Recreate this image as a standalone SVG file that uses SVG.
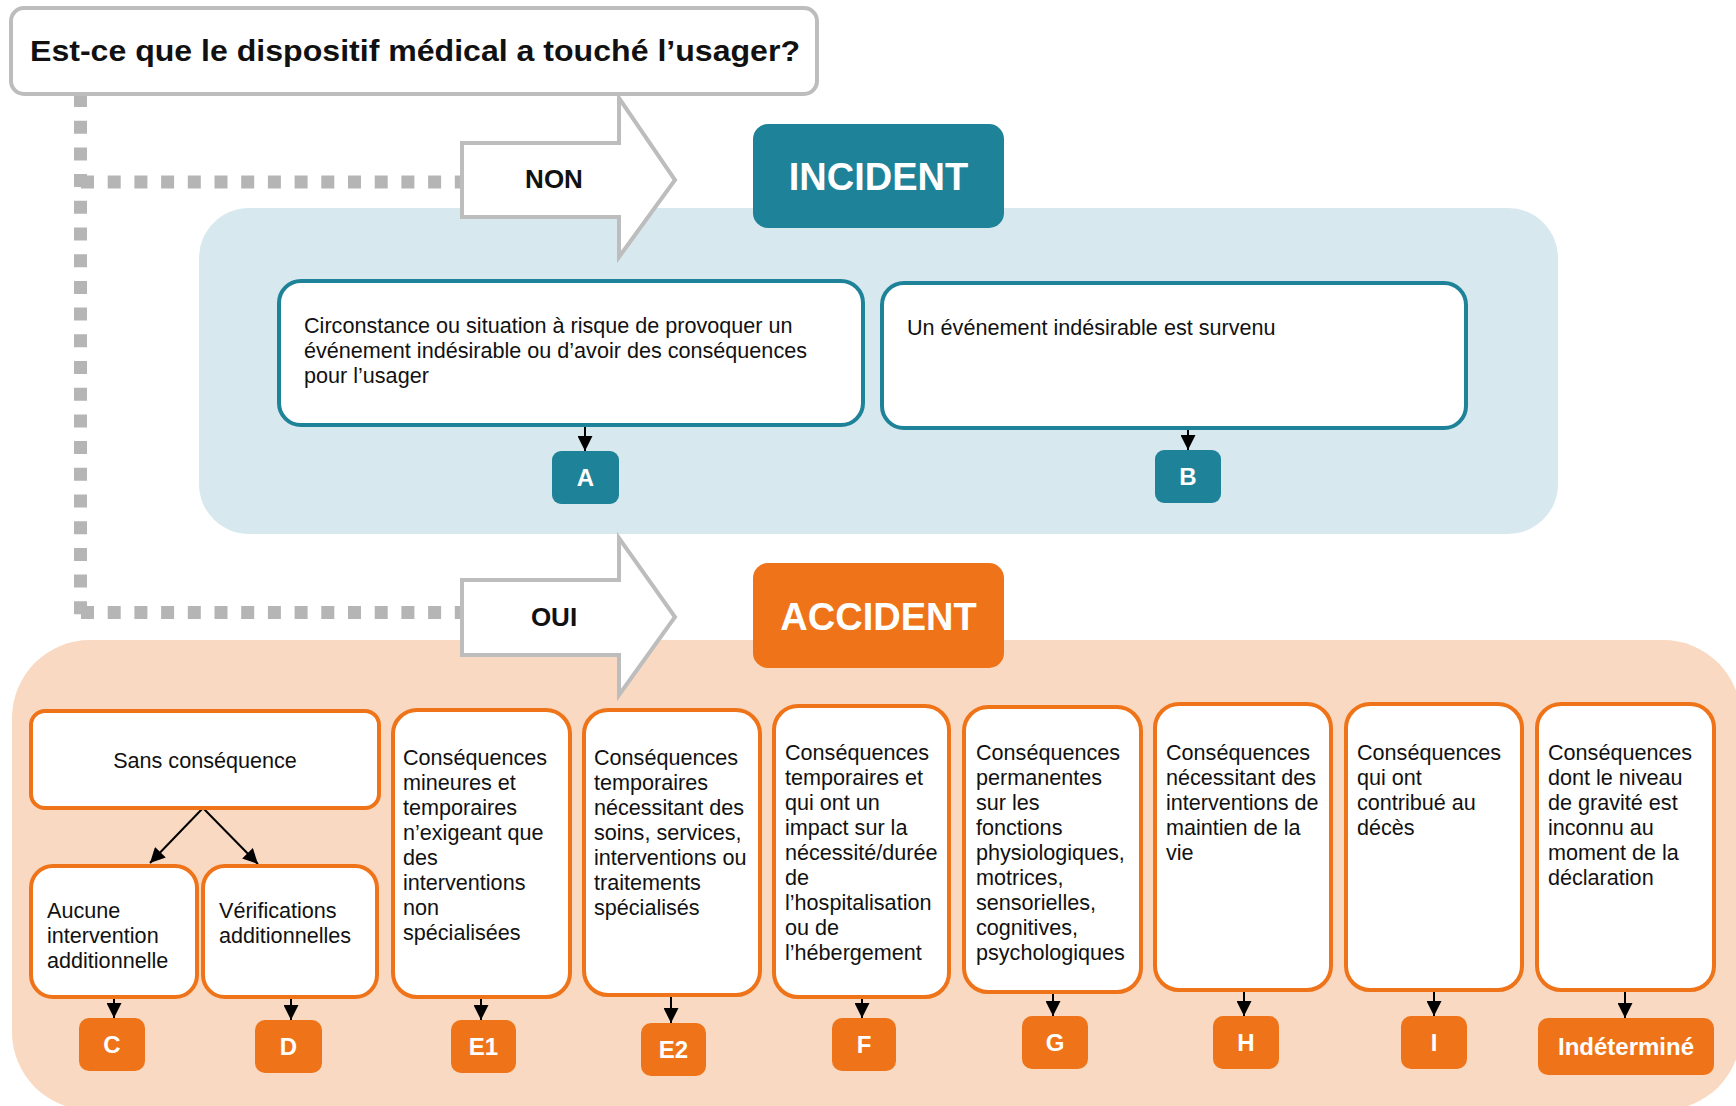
<svg xmlns="http://www.w3.org/2000/svg" width="1736" height="1106" viewBox="0 0 1736 1106">
<defs>
<style>
text{font-family:"Liberation Sans",Arial,sans-serif;fill:#111}
.b{font-weight:bold}
.t{font-size:21.6px}
.badge-t{font-size:24px;font-weight:bold;fill:#fff;text-anchor:middle}
.big{font-size:38px;font-weight:bold;fill:#fff;text-anchor:middle}
.tealbox{fill:#fff;stroke:#1e8299;stroke-width:4}
.orbox{fill:#fff;stroke:#ef7419;stroke-width:4}
.tealfill{fill:#1e8299}
.orfill{fill:#ef7419}
.dots{fill:none;stroke:#b5b5b5;stroke-width:13;stroke-dasharray:13 13.7}
.blk{fill:#fff;stroke:#bdbdbd;stroke-width:4}
.con{stroke:#000;stroke-width:2;fill:none;marker-end:url(#ah)}
</style>
<marker id="ah" viewBox="0 0 10 10" refX="10" refY="5" markerWidth="15" markerHeight="15" markerUnits="userSpaceOnUse" orient="auto">
<path d="M0,0 L10,5 L0,10 z" fill="#000"/>
</marker>
</defs>
<rect width="1736" height="1106" fill="#fff"/>

<!-- panels -->
<rect id="panel-incident" x="199" y="208" width="1359" height="326" rx="50" fill="#d7e9ee"/>
<rect id="panel-accident" x="12" y="640" width="1729" height="470" rx="78" fill="#f9d9c1"/>

<!-- dotted connectors -->
<g id="connectors">
<path class="dots" d="M80.5,94 V620"/>
<path class="dots" d="M81,182 H462"/>
<path class="dots" d="M81,612.5 H462"/>
<path class="con" d="M585,425 V451"/>
<path class="con" d="M1188,428 V450"/>
<path class="con" d="M203,808 L150,863"/>
<path class="con" d="M203,808 L258,864"/>
<path class="con" d="M114,997 V1018"/>
<path class="con" d="M291,997 V1020"/>
<path class="con" d="M481,997 V1020"/>
<path class="con" d="M671,995 V1023"/>
<path class="con" d="M862,997 V1018"/>
<path class="con" d="M1053,992 V1016"/>
<path class="con" d="M1244,990 V1016"/>
<path class="con" d="M1434,990 V1016"/>
<path class="con" d="M1625,990 V1018"/>
</g>

<g id="question">
<rect x="11" y="8" width="806" height="86" rx="13" fill="#fff" stroke="#bdbdbd" stroke-width="4"/>
<text class="b" x="30" y="61" font-size="30" textLength="770" lengthAdjust="spacingAndGlyphs">Est-ce que le dispositif médical a touché l’usager?</text>
</g>

<g id="arrow-non">
<path class="blk" d="M462,143 H619 V98 L675,180 L619,257 V217 H462 Z"/>
<text class="b" x="554" y="188" font-size="26" text-anchor="middle">NON</text>
</g>
<g id="arrow-oui">
<path class="blk" d="M462,580 H619 V538 L675,617 L619,695 V655 H462 Z"/>
<text class="b" x="554" y="626" font-size="26" text-anchor="middle">OUI</text>
</g>

<g id="incident">
<rect class="tealfill" x="753" y="124" width="251" height="104" rx="15"/>
<text class="big" x="878.5" y="190">INCIDENT</text>
</g>
<g id="accident">
<rect class="orfill" x="753" y="563" width="251" height="105" rx="15"/>
<text class="big" x="878.5" y="630">ACCIDENT</text>
</g>

<g id="incident-a">
<rect class="tealbox" x="279" y="281" width="584" height="144" rx="22"/>
<text class="t" x="304"><tspan x="304" y="333">Circonstance ou situation à risque de provoquer un</tspan><tspan x="304" y="358">événement indésirable ou d’avoir des conséquences</tspan><tspan x="304" y="383">pour l’usager</tspan></text>
</g>
<g id="incident-b">
<rect class="tealbox" x="882" y="283" width="584" height="145" rx="22"/>
<text class="t" x="907" y="335">Un événement indésirable est survenu</text>
</g>
<g id="badge-a"><rect class="tealfill" x="552" y="451" width="67" height="53" rx="9"/><text class="badge-t" x="585.5" y="486">A</text></g>
<g id="badge-b"><rect class="tealfill" x="1155" y="450" width="66" height="53" rx="9"/><text class="badge-t" x="1188" y="485">B</text></g>

<g id="sans">
<rect class="orbox" x="31" y="711" width="348" height="97" rx="14"/>
<text class="t" x="205" y="768" text-anchor="middle">Sans conséquence</text>
</g>
<g id="aucune">
<rect class="orbox" x="31" y="866" width="166" height="131" rx="22"/>
<text class="t"><tspan x="47" y="918">Aucune</tspan><tspan x="47" y="943">intervention</tspan><tspan x="47" y="968">additionnelle</tspan></text>
</g>
<g id="verif">
<rect class="orbox" x="203" y="866" width="174" height="131" rx="22"/>
<text class="t"><tspan x="219" y="918">Vérifications</tspan><tspan x="219" y="943">additionnelles</tspan></text>
</g>
<g id="e1-box">
<rect class="orbox" x="393" y="710" width="177" height="287" rx="24"/>
<text class="t"><tspan x="403" y="765">Conséquences</tspan><tspan x="403" y="790">mineures et</tspan><tspan x="403" y="815">temporaires</tspan><tspan x="403" y="840">n’exigeant que</tspan><tspan x="403" y="865">des</tspan><tspan x="403" y="890">interventions</tspan><tspan x="403" y="915">non</tspan><tspan x="403" y="940">spécialisées</tspan></text>
</g>
<g id="e2-box">
<rect class="orbox" x="584" y="710" width="176" height="285" rx="24"/>
<text class="t"><tspan x="594" y="765">Conséquences</tspan><tspan x="594" y="790">temporaires</tspan><tspan x="594" y="815">nécessitant des</tspan><tspan x="594" y="840">soins, services,</tspan><tspan x="594" y="865">interventions ou</tspan><tspan x="594" y="890">traitements</tspan><tspan x="594" y="915">spécialisés</tspan></text>
</g>
<g id="f-box">
<rect class="orbox" x="774" y="706" width="175" height="291" rx="24"/>
<text class="t"><tspan x="785" y="760">Conséquences</tspan><tspan x="785" y="785">temporaires et</tspan><tspan x="785" y="810">qui ont un</tspan><tspan x="785" y="835">impact sur la</tspan><tspan x="785" y="860">nécessité/durée</tspan><tspan x="785" y="885">de</tspan><tspan x="785" y="910">l’hospitalisation</tspan><tspan x="785" y="935">ou de</tspan><tspan x="785" y="960">l’hébergement</tspan></text>
</g>
<g id="g-box">
<rect class="orbox" x="964" y="707" width="177" height="285" rx="24"/>
<text class="t"><tspan x="976" y="760">Conséquences</tspan><tspan x="976" y="785">permanentes</tspan><tspan x="976" y="810">sur les</tspan><tspan x="976" y="835">fonctions</tspan><tspan x="976" y="860">physiologiques,</tspan><tspan x="976" y="885">motrices,</tspan><tspan x="976" y="910">sensorielles,</tspan><tspan x="976" y="935">cognitives,</tspan><tspan x="976" y="960">psychologiques</tspan></text>
</g>
<g id="h-box">
<rect class="orbox" x="1155" y="704" width="176" height="286" rx="24"/>
<text class="t"><tspan x="1166" y="760">Conséquences</tspan><tspan x="1166" y="785">nécessitant des</tspan><tspan x="1166" y="810">interventions de</tspan><tspan x="1166" y="835">maintien de la</tspan><tspan x="1166" y="860">vie</tspan></text>
</g>
<g id="i-box">
<rect class="orbox" x="1346" y="704" width="176" height="286" rx="24"/>
<text class="t"><tspan x="1357" y="760">Conséquences</tspan><tspan x="1357" y="785">qui ont</tspan><tspan x="1357" y="810">contribué au</tspan><tspan x="1357" y="835">décès</tspan></text>
</g>
<g id="ind-box">
<rect class="orbox" x="1537" y="704" width="177" height="286" rx="24"/>
<text class="t"><tspan x="1548" y="760">Conséquences</tspan><tspan x="1548" y="785">dont le niveau</tspan><tspan x="1548" y="810">de gravité est</tspan><tspan x="1548" y="835">inconnu au</tspan><tspan x="1548" y="860">moment de la</tspan><tspan x="1548" y="885">déclaration</tspan></text>
</g>

<g id="badge-c"><rect class="orfill" x="79" y="1018" width="66" height="53" rx="10"/><text class="badge-t" x="112" y="1053">C</text></g>
<g id="badge-d"><rect class="orfill" x="255" y="1020" width="67" height="53" rx="10"/><text class="badge-t" x="288.5" y="1055">D</text></g>
<g id="badge-e1"><rect class="orfill" x="451" y="1020" width="65" height="53" rx="10"/><text class="badge-t" x="483.5" y="1055">E1</text></g>
<g id="badge-e2"><rect class="orfill" x="641" y="1023" width="65" height="53" rx="10"/><text class="badge-t" x="673.5" y="1058">E2</text></g>
<g id="badge-f"><rect class="orfill" x="832" y="1018" width="64" height="53" rx="10"/><text class="badge-t" x="864" y="1053">F</text></g>
<g id="badge-g"><rect class="orfill" x="1022" y="1016" width="66" height="53" rx="10"/><text class="badge-t" x="1055" y="1051">G</text></g>
<g id="badge-h"><rect class="orfill" x="1213" y="1016" width="66" height="53" rx="10"/><text class="badge-t" x="1246" y="1051">H</text></g>
<g id="badge-i"><rect class="orfill" x="1401" y="1016" width="66" height="53" rx="10"/><text class="badge-t" x="1434" y="1051">I</text></g>
<g id="badge-ind"><rect class="orfill" x="1538" y="1018" width="176" height="57" rx="10"/><text class="badge-t" x="1626" y="1055">Indéterminé</text></g>
</svg>
